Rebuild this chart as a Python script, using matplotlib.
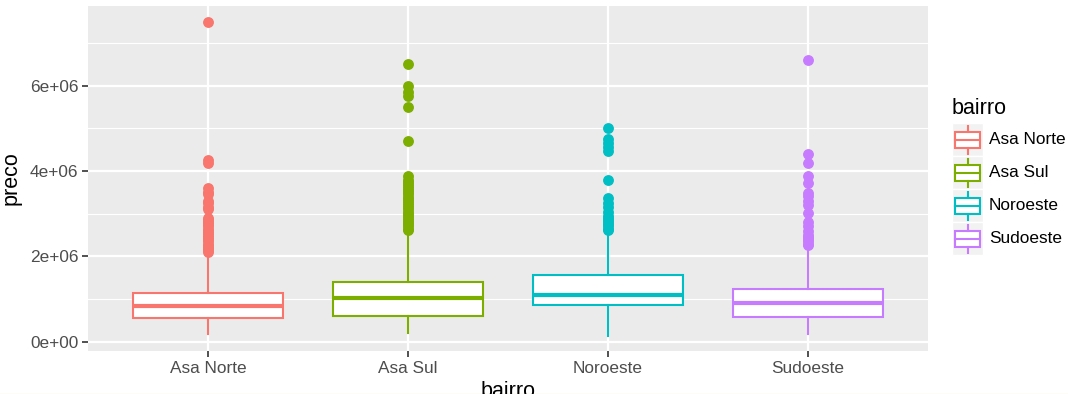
import matplotlib
matplotlib.use("Agg")
import matplotlib.pyplot as plt
from matplotlib.patches import Rectangle
from matplotlib.lines import Line2D
from matplotlib.ticker import MultipleLocator, FuncFormatter

plt.rcParams["font.family"] = ["Liberation Sans", "DejaVu Sans"]

# Neighbourhoods and their ggplot hue colours
bairros = ["Asa Norte", "Asa Sul", "Noroeste", "Sudoeste"]
cores = ["#F8766D", "#7CAE00", "#00BFC4", "#C77CFF"]

# Five-number summaries of price (R$)
whisker_low = [175000, 200000, 140000, 190000]
q1 = [550000, 600000, 860000, 580000]
mediana = [840000, 1030000, 1090000, 900000]
q3 = [1150000, 1400000, 1560000, 1240000]
whisker_high = [2050000, 2560000, 2560000, 2230000]

# Outlying prices per neighbourhood
outliers = [
    [7500000, 4250000, 4200000, 3600000, 3520000, 3450000, 3300000, 3250000,
     3150000, 3100000, 2900000, 2850000, 2800000, 2750000, 2700000, 2650000,
     2600000, 2550000, 2500000, 2450000, 2400000, 2350000, 2300000, 2250000,
     2200000, 2150000, 2100000],
    [6520000, 6000000, 5850000, 5750000, 5500000, 4700000, 3880000, 3800000,
     3750000, 3700000, 3650000, 3600000, 3550000, 3500000, 3450000, 3400000,
     3350000, 3300000, 3250000, 3200000, 3150000, 3100000, 3050000, 3000000,
     2950000, 2900000, 2850000, 2800000, 2750000, 2700000, 2650000, 2620000],
    [5010000, 4740000, 4650000, 4560000, 4470000, 3800000, 3370000, 3250000,
     3150000, 3050000, 2950000, 2900000, 2850000, 2800000, 2750000, 2700000,
     2650000, 2620000],
    [6610000, 4410000, 4190000, 3880000, 3720000, 3490000, 3420000, 3290000,
     3200000, 3020000, 2800000, 2710000, 2600000, 2500000, 2450000, 2400000,
     2350000, 2300000, 2270000],
]

W, H = 1068, 394
fig = plt.figure(figsize=(W / 100, H / 100), dpi=100)
fig.patch.set_facecolor("white")

left, right, top, bottom = 88, 928, 6, 351
ax = fig.add_axes([left / W, 1 - bottom / H, (right - left) / W, (bottom - top) / H])
ax.set_facecolor("#EBEBEB")
for s in ax.spines.values():
    s.set_visible(False)

stats = []
for i in range(len(bairros)):
    stats.append(dict(whislo=whisker_low[i], q1=q1[i], med=mediana[i],
                      q3=q3[i], whishi=whisker_high[i], fliers=outliers[i],
                      label=bairros[i]))

pos = list(range(1, len(bairros) + 1))
for i, st in enumerate(stats):
    c = cores[i]
    ax.bxp([st], positions=[pos[i]], widths=0.75, patch_artist=True,
           showcaps=False,
           boxprops=dict(facecolor="white", edgecolor=c, linewidth=1.5),
           medianprops=dict(color=c, linewidth=3.0, solid_capstyle="butt"),
           whiskerprops=dict(color=c, linewidth=1.5),
           flierprops=dict(marker="o", markerfacecolor=c, markeredgecolor=c,
                           markersize=6.8, linestyle="none"),
           zorder=3)

ax.set_xlim(0.4, 4.6)
ax.set_ylim(-220000, 7870000)

ax.set_xticks(pos)
ax.set_xticklabels(bairros)
ax.yaxis.set_major_locator(MultipleLocator(2000000))
ax.yaxis.set_minor_locator(MultipleLocator(1000000))
ax.yaxis.set_major_formatter(FuncFormatter(
    lambda v, p: "0e+00" if v == 0 else "%de+06" % round(v / 1e6)))

ax.grid(which="major", color="white", linewidth=1.6, zorder=0)
ax.grid(which="minor", axis="y", color="white", linewidth=0.8, zorder=0)
ax.set_axisbelow(True)
ax.tick_params(axis="both", which="major", length=4, width=1.2, color="#333333",
               labelsize=12.4, labelcolor="#4D4D4D", pad=3)
ax.tick_params(axis="y", which="minor", length=0)

ax.set_ylabel("preco", fontsize=15.5, color="black", labelpad=6)
# x title sits on the lower figure edge, only its upper part inside the canvas
fig.text((left + right) / 2 / W, 1 - 397 / H, "bairro", fontsize=15.5,
         ha="center", va="baseline", color="black")

# Legend drawn in figure pixel space
lg = fig.add_axes([0, 0, 1, 1], facecolor="none")
lg.set_xlim(0, W)
lg.set_ylim(H, 0)
lg.axis("off")
lg.text(952, 108, "bairro", fontsize=15.5, va="center", ha="left", color="black")
kx, kw, kh, ky0 = 952, 31, 33, 123
for i, (b, c) in enumerate(zip(bairros, cores)):
    y0 = ky0 + i * kh
    lg.add_patch(Rectangle((kx, y0), kw, kh, facecolor="#F2F2F2",
                           edgecolor="white", linewidth=1.0))
    cx = kx + kw / 2
    lg.add_patch(Rectangle((kx + 3, y0 + 8.5), kw - 6, kh - 17, facecolor="white",
                           edgecolor=c, linewidth=1.5))
    lg.add_line(Line2D([kx + 3, kx + kw - 3], [y0 + kh / 2, y0 + kh / 2],
                       color=c, linewidth=1.5))
    lg.add_line(Line2D([cx, cx], [y0 + 3, y0 + 8.5], color=c, linewidth=1.5))
    lg.add_line(Line2D([cx, cx], [y0 + kh - 8.5, y0 + kh - 2.5], color=c,
                       linewidth=1.5))
    lg.text(989, y0 + kh / 2, b, fontsize=12.4, va="center", ha="left",
            color="black")

# thin rule along the bottom edge
lg.add_line(Line2D([0, W], [393.5, 393.5], color="#F2C94C", linewidth=0.8))

fig.savefig("out.png", dpi=100)
